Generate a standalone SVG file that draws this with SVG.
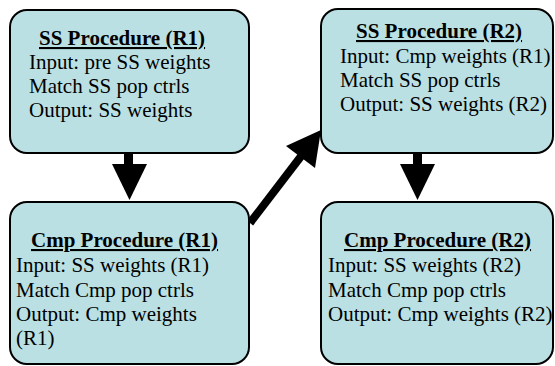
<svg xmlns="http://www.w3.org/2000/svg" width="555" height="366" viewBox="0 0 555 366">
<style>
.box{fill:#BBE0E3;stroke:#000;stroke-width:2}
.t{font-weight:bold;text-decoration:underline}
.arr{fill:#000}
</style>
<rect width="555" height="366" fill="#fff"/>
<g id="connectors">
<rect class="arr" x="124" y="152" width="9" height="13"/>
<polygon class="arr" points="112,164 147,164 129.5,200"/>
<rect class="arr" x="413" y="152" width="9" height="13"/>
<polygon class="arr" points="400,164 435,164 417.5,200"/>
<line x1="250" y1="223" x2="302" y2="155" stroke="#000" stroke-width="8"/>
<polygon class="arr" points="321,130 286,146 315,168"/>
</g>
<g font-family="Liberation Serif, Times New Roman, DejaVu Serif, serif" font-size="21" fill="#000">
<g id="ss-r1">
<rect class="box" x="10" y="10" width="239" height="143" rx="17"/>
<text class="t" x="39" y="45">SS Procedure (R1)</text>
<text x="29" y="69">Input: pre SS weights</text>
<text x="29" y="93">Match SS pop ctrls</text>
<text x="29" y="117">Output: SS weights</text>
</g>
<g id="ss-r2">
<rect class="box" x="321" y="9" width="232" height="144" rx="17"/>
<text class="t" x="356" y="38">SS Procedure (R2)</text>
<text x="340" y="63">Input: Cmp weights (R1)</text>
<text x="340" y="87">Match SS pop ctrls</text>
<text x="340" y="111">Output: SS weights (R2)</text>
</g>
<g id="cmp-r1">
<rect class="box" x="10" y="202" width="239" height="162" rx="17"/>
<text class="t" x="31" y="247">Cmp Procedure (R1)</text>
<text x="16" y="272">Input: SS weights (R1)</text>
<text x="16" y="297">Match Cmp pop ctrls</text>
<text x="16" y="321">Output: Cmp weights</text>
<text x="16" y="345">(R1)</text>
</g>
<g id="cmp-r2">
<rect class="box" x="321" y="202" width="232" height="162" rx="17"/>
<text class="t" x="344" y="247">Cmp Procedure (R2)</text>
<text x="328" y="272">Input: SS weights (R2)</text>
<text x="328" y="297">Match Cmp pop ctrls</text>
<text x="328" y="321">Output: Cmp weights (R2)</text>
</g>
</g>
</svg>
